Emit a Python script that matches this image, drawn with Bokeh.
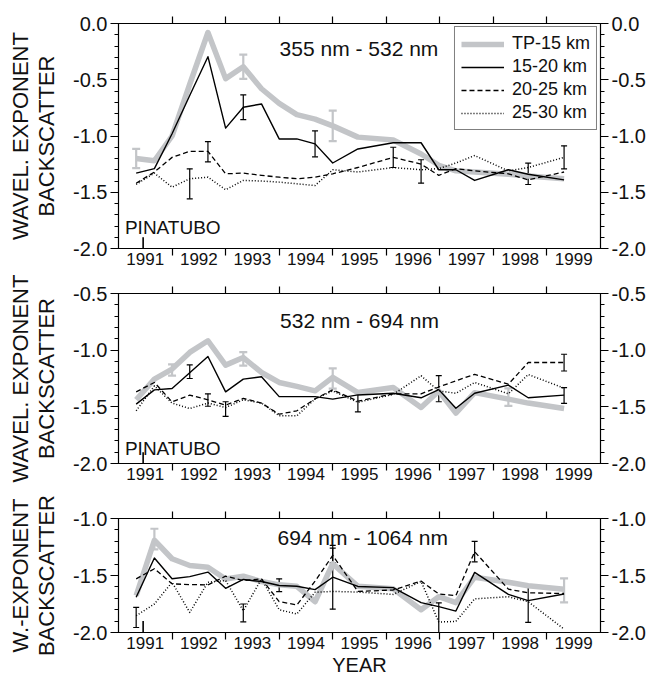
from bokeh.plotting import figure
from bokeh.models import (Range1d, LinearAxis, FixedTicker, SingleIntervalTicker,
                          PrintfTickFormatter, ColumnDataSource, Whisker, TeeHead,
                          Label, Legend, LegendItem)
from bokeh.layouts import column
from bokeh.embed import file_html
from bokeh.resources import INLINE

# ---------------- data ----------------
YEAR_LABELS = ["1991", "1992", "1993", "1994", "1995", "1996", "1997", "1998", "1999"]
SERIES = ["TP-15 km", "15-20 km", "20-25 km", "25-30 km"]

X = [1991.33, 1991.67, 1992.0, 1992.33, 1992.67, 1993.0, 1993.33, 1993.67, 1994.0,
     1994.33, 1994.67, 1995.0, 1995.47, 1996.13, 1996.65, 1996.98, 1997.3, 1997.65,
     1998.28, 1998.65, 1999.32]

# panel 1: 355 nm - 532 nm
P1_TP = [-1.20, -1.22, -1.00, -0.54, -0.08, -0.49, -0.385, -0.58, -0.71, -0.81, -0.85,
         -0.91, -1.01, -1.035, -1.16, -1.26, -1.31, -1.32, -1.34, -1.355, -1.38]
P1_15 = [-1.33, -1.29, -0.98, -0.64, -0.295, -0.93, -0.745, -0.715, -1.026, -1.026, -1.07,
         -1.24, -1.115, -1.06, -1.06, -1.30, -1.30, -1.395, -1.30, -1.34, -1.39]
P1_20 = [-1.42, -1.32, -1.19, -1.136, -1.136, -1.336, -1.33, -1.35, -1.366, -1.38, -1.366,
         -1.336, -1.28, -1.19, -1.25, -1.35, -1.29, -1.31, -1.336, -1.39, -1.32]
P1_25 = [-1.43, -1.33, -1.455, -1.38, -1.366, -1.478, -1.395, -1.40, -1.41, -1.425, -1.44,
         -1.30, -1.32, -1.28, -1.30, -1.29, -1.24, -1.174, -1.31, -1.28, -1.19]
P1_ERR_SERIES = [0, 0, 0, 1, 1, 2, 2, 3, 3, 3, 3]
P1_ERR_X = [1991.33, 1993.33, 1995.0, 1993.33, 1994.67, 1992.67, 1996.13, 1992.33, 1996.65, 1998.65, 1999.32]
P1_ERR_Y = [-1.20, -0.385, -0.91, -0.745, -1.07, -1.14, -1.19, -1.425, -1.315, -1.336, -1.19]
P1_ERR_H = [0.085, 0.108, 0.135, 0.11, 0.115, 0.09, 0.09, 0.133, 0.104, 0.095, 0.103]

# panel 2: 532 nm - 694 nm
P2_TP = [-1.438, -1.255, -1.167, -1.02, -0.917, -1.132, -1.065, -1.197, -1.285, -1.32, -1.359,
         -1.24, -1.374, -1.33, -1.506, -1.36, -1.555, -1.375, -1.432, -1.467, -1.515]
P2_15 = [-1.476, -1.35, -1.338, -1.20, -1.056, -1.368, -1.256, -1.235, -1.41, -1.41, -1.41,
         -1.432, -1.395, -1.38, -1.42, -1.348, -1.512, -1.38, -1.309, -1.42, -1.397]
P2_20 = [-1.368, -1.285, -1.456, -1.397, -1.438, -1.485, -1.426, -1.467, -1.565, -1.535, -1.43,
         -1.35, -1.45, -1.385, -1.385, -1.325, -1.27, -1.214, -1.30, -1.109, -1.109]
P2_25 = [-1.535, -1.315, -1.467, -1.515, -1.467, -1.506, -1.438, -1.467, -1.579, -1.579, -1.43,
         -1.36, -1.46, -1.39, -1.226, -1.36, -1.38, -1.285, -1.385, -1.215, -1.335]
P2_ERR_SERIES = [0, 0, 0, 0, 1, 1, 1, 2, 2, 2, 2]
P2_ERR_X = [1992.0, 1993.33, 1995.0, 1998.28, 1992.33, 1996.98, 1999.32, 1992.67, 1993.0, 1995.47, 1999.32]
P2_ERR_Y = [-1.175, -1.077, -1.25, -1.415, -1.19, -1.34, -1.40, -1.44, -1.52, -1.46, -1.11]
P2_ERR_H = [0.05, 0.06, 0.09, 0.077, 0.06, 0.115, 0.07, 0.055, 0.065, 0.085, 0.074]

# panel 3: 694 nm - 1064 nm
P3_TP = [-1.676, -1.191, -1.353, -1.412, -1.427, -1.53, -1.506, -1.553, -1.582, -1.595, -1.73,
         -1.397, -1.595, -1.617, -1.80, -1.686, -1.738, -1.515, -1.56, -1.59, -1.62]
P3_15 = [-1.691, -1.347, -1.529, -1.51, -1.47, -1.612, -1.535, -1.553, -1.588, -1.594, -1.624,
         -1.515, -1.596, -1.606, -1.738, -1.773, -1.812, -1.473, -1.666, -1.72, -1.662]
P3_20 = [-1.529, -1.441, -1.573, -1.58, -1.582, -1.506, -1.544, -1.53, -1.729, -1.759, -1.55,
         -1.324, -1.64, -1.627, -1.549, -1.662, -1.676, -1.291, -1.62, -1.652, -1.658]
P3_25 = [-1.853, -1.75, -1.559, -1.824, -1.559, -1.544, -1.809, -1.53, -1.80, -1.838, -1.647,
         -1.64, -1.645, -1.666, -1.552, -1.908, -1.903, -1.705, -1.686, -1.73, -1.97]
P3_ERR_SERIES = [0, 0, 1, 1, 1, 1, 2, 2, 3, 3]
P3_ERR_X = [1991.67, 1999.32, 1994.0, 1995.0, 1996.98, 1998.65, 1995.0, 1997.65, 1991.33, 1993.33]
P3_ERR_Y = [-1.18, -1.63, -1.585, -1.515, -1.88, -1.757, -1.324, -1.29, -1.868, -1.828]
P3_ERR_H = [0.09, 0.105, 0.056, 0.28, 0.14, 0.155, 0.065, 0.09, 0.088, 0.078]

TITLES = ["355 nm - 532 nm", "532 nm - 694 nm", "694 nm - 1064 nm"]
TITLE_POS = [(1995.49, -0.225), (1995.5, -0.741), (1995.56, -1.17)]
Y_RANGES = [(-2.0, 0.0), (-2.0, -0.5), (-2.0, -1.0)]
Y_LABELS = ["WAVEL. EXPONENT\nBACKSCATTER", "WAVEL. EXPONENT\nBACKSCATTER", "W.-EXPONENT\nBACKSCATTER"]
PINATUBO_YEAR = 1991.46
PIN_MARK_LEN = 0.1
PIN_TEXT = ["PINATUBO", "PINATUBO", None]
PIN_TEXT_POS = [(1991.12, -1.81), (1991.12, -1.87), None]
X_LABEL = "YEAR"

# ---------------- styling ----------------
FONT = "Liberation Sans"
GREY = "#c3c5c8"
INK = "#111111"
STYLES = [dict(color=GREY, width=5.5, dash="solid"),
          dict(color="black", width=1.4, dash="solid"),
          dict(color="black", width=1.3, dash="5 3"),
          dict(color="black", width=1.5, dash="1 2")]

boundaries = [int(l) + 1 for l in YEAR_LABELS[:-1]]
label_pos = [int(l) + 0.5 for l in YEAR_LABELS]


def make_panel(idx, series, errs, height, b_top, b_bottom, show_xlabel, legend):
    y0, y1 = Y_RANGES[idx]
    p = figure(width=648, height=height, x_range=Range1d(1991, 2000), y_range=Range1d(y0, y1),
               output_backend="svg", toolbar_location=None,
               min_border_left=118, min_border_right=0,
               min_border_top=b_top, min_border_bottom=b_bottom)
    p.grid.visible = False
    p.outline_line_color = "black"
    p.outline_line_width = 1.2
    p.background_fill_color = "white"
    p.border_fill_color = "white"

    # bottom axis: labels centred in each year, ticks at the year boundaries
    xb = p.xaxis[0]
    xb.ticker = FixedTicker(ticks=label_pos, minor_ticks=boundaries)
    xb.major_label_overrides = {pos: lab for pos, lab in zip(label_pos, YEAR_LABELS)}
    xb.major_tick_out = 0
    xb.major_tick_in = 0
    xb.minor_tick_out = 7
    xb.minor_tick_in = 0
    xb.minor_tick_line_color = "black"
    xb.minor_tick_line_width = 1.2
    xb.axis_line_color = "black"
    xb.major_label_standoff = -3
    xb.major_label_text_font = FONT
    xb.major_label_text_font_size = "17px"
    xb.major_label_text_color = INK
    if show_xlabel:
        xb.axis_label = X_LABEL
        xb.axis_label_text_font = FONT
        xb.axis_label_text_font_size = "20px"
        xb.axis_label_text_font_style = "normal"
        xb.axis_label_text_color = INK
        xb.axis_label_standoff = 2

    # top axis: only year-boundary ticks, no labels
    top = LinearAxis(ticker=FixedTicker(ticks=[], minor_ticks=boundaries),
                     major_tick_out=0, major_tick_in=0, minor_tick_out=7, minor_tick_in=0,
                     minor_tick_line_color="black", minor_tick_line_width=1.2,
                     major_label_standoff=0, axis_line_color="black")
    p.add_layout(top, "above")

    def style_y(ax):
        ax.ticker = SingleIntervalTicker(interval=0.5, num_minor_ticks=5)
        ax.formatter = PrintfTickFormatter(format="%.1f")
        ax.major_tick_out = 8
        ax.major_tick_in = 0
        ax.minor_tick_out = 4
        ax.minor_tick_in = 0
        ax.major_tick_line_color = "black"
        ax.minor_tick_line_color = "black"
        ax.major_tick_line_width = 1.2
        ax.minor_tick_line_width = 1.0
        ax.axis_line_color = "black"
        ax.major_label_standoff = 3
        ax.major_label_text_font = FONT
        ax.major_label_text_font_size = "20px"
        ax.major_label_text_color = INK

    yl = p.yaxis[0]
    style_y(yl)
    yl.axis_label = Y_LABELS[idx]
    yl.axis_label_text_font = FONT
    yl.axis_label_text_font_size = "22px"
    yl.axis_label_text_font_style = "normal"
    yl.axis_label_text_color = INK
    yl.axis_label_text_line_height = 1.05
    yl.axis_label_standoff = 11

    yr = LinearAxis()
    style_y(yr)
    p.add_layout(yr, "right")

    # error bars
    ex, ey, eh, es = errs
    for s in range(4):
        sel = [i for i in range(len(ex)) if es[i] == s]
        if not sel:
            continue
        st = STYLES[s]
        grey = s == 0
        lw = 2.2 if grey else 1.2
        cap = 8 if grey else 6
        src = ColumnDataSource(dict(x=[ex[i] for i in sel],
                                    upper=[ey[i] + eh[i] for i in sel],
                                    lower=[ey[i] - eh[i] for i in sel]))
        w = Whisker(base="x", upper="upper", lower="lower", source=src,
                    line_color=st["color"], line_width=lw,
                    upper_head=TeeHead(size=cap, line_color=st["color"], line_width=lw),
                    lower_head=TeeHead(size=cap, line_color=st["color"], line_width=lw))
        p.add_layout(w)

    renderers = []
    for s, ys in enumerate(series):
        st = STYLES[s]
        r = p.line(X, ys, line_color=st["color"], line_width=st["width"],
                   line_dash=st["dash"], line_join="round")
        renderers.append(r)

    # Pinatubo eruption mark
    p.segment(x0=[PINATUBO_YEAR], y0=[y0], x1=[PINATUBO_YEAR], y1=[y0 + PIN_MARK_LEN],
              line_color="black", line_width=1.6)
    if PIN_TEXT[idx]:
        px, py = PIN_TEXT_POS[idx]
        p.add_layout(Label(x=px, y=py, text=PIN_TEXT[idx], text_font=FONT,
                           text_font_size="19px", text_color=INK,
                           text_align="left", text_baseline="middle"))

    tx, ty = TITLE_POS[idx]
    p.add_layout(Label(x=tx, y=ty, text=TITLES[idx], text_font=FONT,
                       text_font_size="21px", text_color=INK,
                       text_align="center", text_baseline="middle"))

    if legend:
        lg = Legend(items=[LegendItem(label=SERIES[i], renderers=[renderers[i]]) for i in range(4)],
                    location="top_right", label_text_font=FONT, label_text_font_size="18px",
                    label_text_color=INK, glyph_width=43, glyph_height=20,
                    label_height=20, spacing=2, padding=6, margin=3, label_standoff=8,
                    border_line_color="black", border_line_width=1.2,
                    background_fill_alpha=1.0)
        p.add_layout(lg)
    return p


p1 = make_panel(0, [P1_TP, P1_15, P1_20, P1_25], (P1_ERR_X, P1_ERR_Y, P1_ERR_H, P1_ERR_SERIES),
                272, 23, 24, False, True)
p2 = make_panel(1, [P2_TP, P2_15, P2_20, P2_25], (P2_ERR_X, P2_ERR_Y, P2_ERR_H, P2_ERR_SERIES),
                215, 21, 24, False, False)
p3 = make_panel(2, [P3_TP, P3_15, P3_20, P3_25], (P3_ERR_X, P3_ERR_Y, P3_ERR_H, P3_ERR_SERIES),
                193, 31, 48, True, False)

layout = column(p1, p2, p3, spacing=0)
open("out.html", "w").write(file_html(layout, INLINE))
